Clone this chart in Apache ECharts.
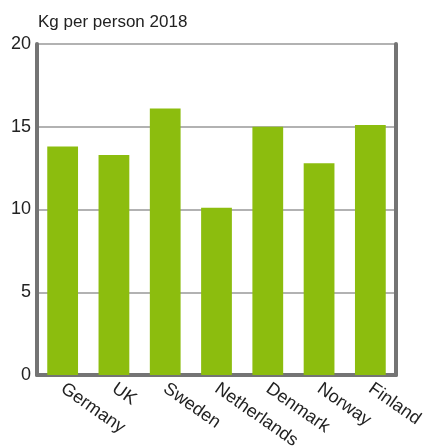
<!DOCTYPE html>
<html>
<head>
<meta charset="utf-8">
<script src="https://cdn.jsdelivr.net/npm/echarts@6/dist/echarts.min.js"></script>
<style>
  html, body { margin: 0; padding: 0; background: #fff; }
  #main { width: 427px; height: 446px; }
</style>
</head>
<body>
<div id="main"></div>
<script>
// 数据
var countries = ['Germany', 'UK', 'Sweden', 'Netherlands', 'Denmark', 'Norway', 'Finland'];
var kgPerPerson = [13.8, 13.3, 16.1, 10.1, 15.0, 12.8, 15.1];
var yTicks = [0, 5, 10, 15, 20];

var font = 'Liberation Sans, Arial, sans-serif';
var myChart = echarts.init(document.getElementById('main'));
var option = {
    animation: false,
    title: {
        text: 'Kg per person 2018',
        left: 33,
        top: 9,
        textStyle: { fontFamily: font, fontSize: 17, fontWeight: 'normal', color: '#222' }
    },
    grid: { left: 37, right: 31, top: 44, bottom: 71, outerBoundsMode: 'none', containLabel: false },
    xAxis: {
        type: 'category',
        data: countries,
        axisTick: { show: false },
        axisLine: { lineStyle: { color: '#747474', width: 4 } },
        axisLabel: {
            rotate: -35,
            margin: 12,
            fontFamily: font,
            fontSize: 18,
            color: '#222'
        }
    },
    yAxis: [
        {
            type: 'value',
            min: yTicks[0],
            max: yTicks[yTicks.length - 1],
            interval: 5,
            axisLine: { show: true, lineStyle: { color: '#747474', width: 4 } },
            axisTick: { show: false },
            splitLine: { lineStyle: { color: '#999', width: 1.5 } },
            axisLabel: { margin: 6, fontFamily: font, fontSize: 18, color: '#222' }
        },
        {
            type: 'value',
            position: 'right',
            min: yTicks[0],
            max: yTicks[yTicks.length - 1],
            interval: 5,
            axisLine: { show: true, lineStyle: { color: '#747474', width: 4 } },
            axisTick: { show: false },
            splitLine: { show: false },
            axisLabel: { show: false }
        }
    ],
    series: [
        {
            type: 'bar',
            data: kgPerPerson,
            barWidth: '60%',
            itemStyle: { color: '#8cbd0e' }
        }
    ]
};
myChart.setOption(option);
</script>
</body>
</html>
